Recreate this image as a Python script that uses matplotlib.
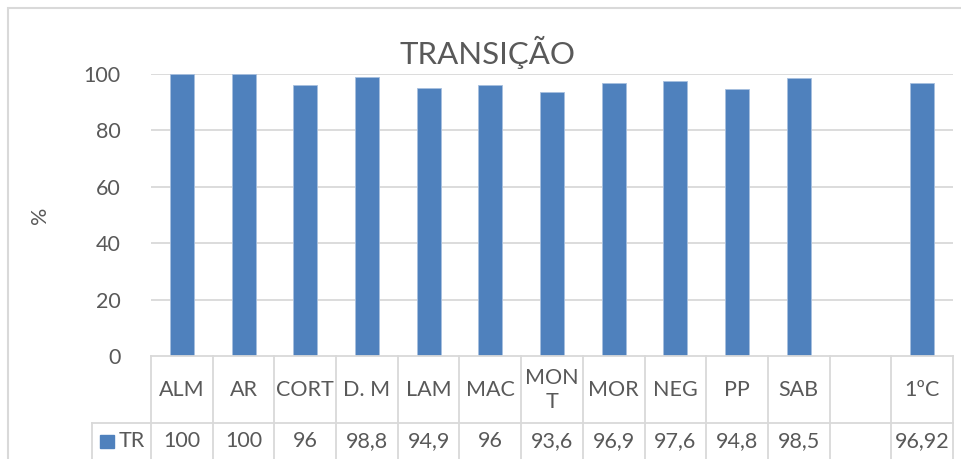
import matplotlib
matplotlib.use('Agg')
import matplotlib.pyplot as plt
from matplotlib.lines import Line2D
from matplotlib.patches import Rectangle

plt.rcParams['font.family'] = ['Lato', 'DejaVu Sans']

categorias = ['ALM', 'AR', 'CORT', 'D. M', 'LAM', 'MAC', 'MON\nT', 'MOR', 'NEG', 'PP', 'SAB', '', '1ºC']
valores = [100, 100, 96, 98.8, 94.9, 96, 93.6, 96.9, 97.6, 94.8, 98.5, None, 96.92]
serie = 'TR'
titulo = 'TRANSIÇÃO'
yticks = [0, 20, 40, 60, 80, 100]

azul = '#4f81bd'
cinza_txt = '#595959'
cinza_lin = '#d9d9d9'

W, H = 961, 459
fig = plt.figure(figsize=(W / 100, H / 100), dpi=100)

# area do grafico em pixels
x0, x1 = 151, 953
y_top, y_zero = 74, 356
ax = fig.add_axes([x0 / W, 1 - y_zero / H, (x1 - x0) / W, (y_zero - y_top) / H])

n = len(categorias)
xs = list(range(n))
for x, v in zip(xs, valores):
    if v is not None:
        ax.bar(x, v, width=0.39, color=azul, edgecolor='#a7bfdf', linewidth=0.6, zorder=3)

ax.set_xlim(-0.5, n - 0.5)
ax.set_ylim(0, 100)
ax.set_yticks(yticks)
ax.set_yticklabels([str(t) for t in yticks], fontsize=15.5, color=cinza_txt)
ax.tick_params(axis='y', length=0, pad=22)
ax.set_xticks([])
for s in ax.spines.values():
    s.set_visible(False)
for t in yticks[1:]:
    ax.axhline(t, color=cinza_lin, lw=1.3, zorder=1)

fig.text(40 / W, 1 - 215 / H, '%', rotation=90, fontsize=15.5, color=cinza_txt,
         ha='center', va='center')
fig.text(488 / W, 1 - 52 / H, titulo, fontsize=22.5, color=cinza_txt,
         ha='center', va='center')

# tabela de dados
col_w = (x1 - x0) / n


def fy(py):
    return 1 - py / H


def fx(px):
    return px / W


row1, row2, row_end = 356, 423, 470
leg_x = 92
lw = 1.3
fig.add_artist(Line2D([fx(x0), fx(x1)], [fy(row1), fy(row1)], color=cinza_lin, lw=lw))
fig.add_artist(Line2D([fx(leg_x), fx(x1)], [fy(row2), fy(row2)], color=cinza_lin, lw=lw))
fig.add_artist(Line2D([fx(leg_x), fx(leg_x)], [fy(row2), fy(row_end)], color=cinza_lin, lw=lw))
for i in range(n + 1):
    px = x0 + i * col_w
    fig.add_artist(Line2D([fx(px), fx(px)], [fy(row1), fy(row_end)], color=cinza_lin, lw=lw))

for i, (c, v) in enumerate(zip(categorias, valores)):
    cx = fx(x0 + (i + 0.5) * col_w)
    fig.text(cx, fy((row1 + row2) / 2 + 1), c, fontsize=15.5, color=cinza_txt,
             ha='center', va='center', linespacing=1.25)
    if v is not None:
        rotulo = f'{v:g}'.replace('.', ',')
        fig.text(cx, fy(441), rotulo, fontsize=15.5, color=cinza_txt,
                 ha='center', va='center')

fig.add_artist(Rectangle((fx(100), fy(448)), 14 / W, 13 / H, color=azul,
                         transform=fig.transFigure))
fig.text(fx(119), fy(441), serie, fontsize=15.5, color=cinza_txt, ha='left', va='center')

# moldura externa
fig.add_artist(Rectangle((fx(8), fy(500)), 1.2, fy(8) - fy(500), fill=False,
                         edgecolor=cinza_lin, lw=1.5, transform=fig.transFigure))

fig.savefig('out.png', dpi=100, facecolor='white')
